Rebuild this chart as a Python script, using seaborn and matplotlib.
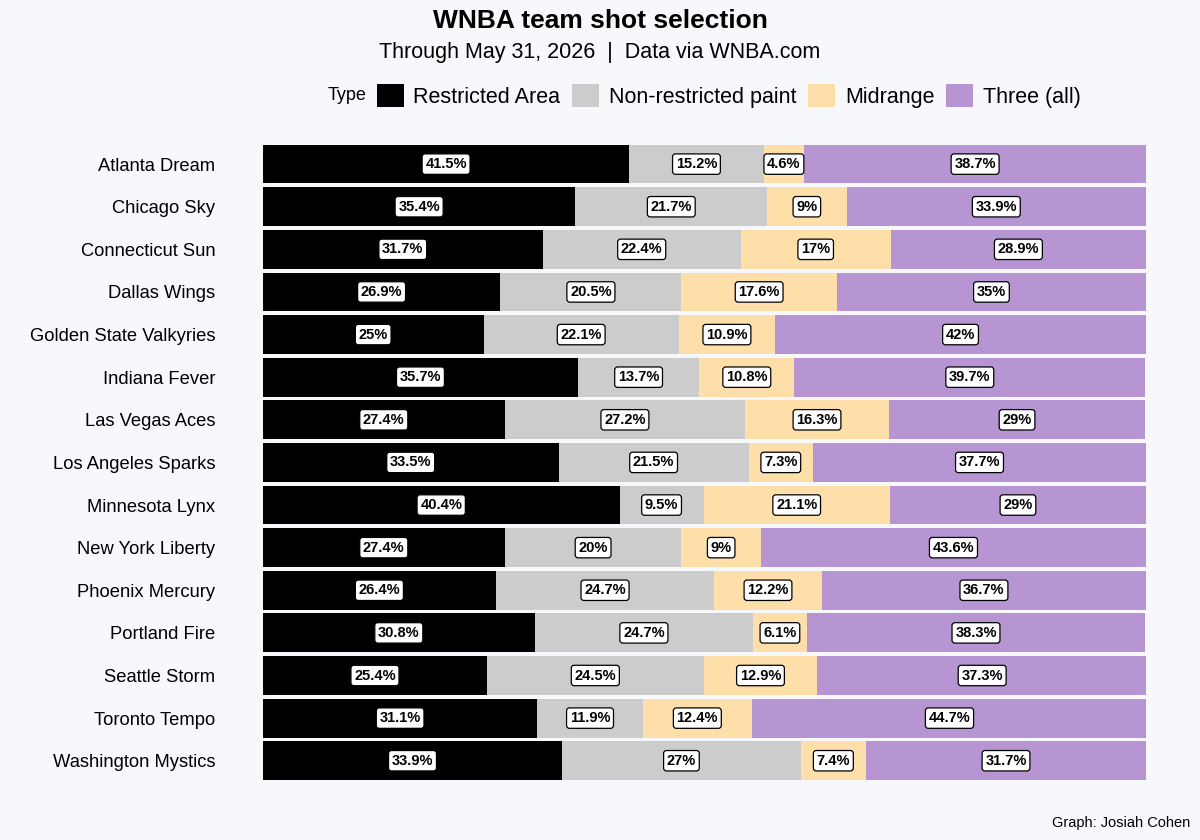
import numpy as np
import pandas as pd
import seaborn as sns
import matplotlib.pyplot as plt
from matplotlib.patches import Patch

# data
teams = ["Atlanta Dream", "Chicago Sky", "Connecticut Sun", "Dallas Wings",
         "Golden State Valkyries", "Indiana Fever", "Las Vegas Aces",
         "Los Angeles Sparks", "Minnesota Lynx", "New York Liberty",
         "Phoenix Mercury", "Portland Fire", "Seattle Storm", "Toronto Tempo",
         "Washington Mystics"]
restricted = [41.5, 35.4, 31.7, 26.9, 25.0, 35.7, 27.4, 33.5, 40.4, 27.4, 26.4, 30.8, 25.4, 31.1, 33.9]
paint = [15.2, 21.7, 22.4, 20.5, 22.1, 13.7, 27.2, 21.5, 9.5, 20.0, 24.7, 24.7, 24.5, 11.9, 27.0]
midrange = [4.6, 9.0, 17.0, 17.6, 10.9, 10.8, 16.3, 7.3, 21.1, 9.0, 12.2, 6.1, 12.9, 12.4, 7.4]
three = [38.7, 33.9, 28.9, 35.0, 42.0, 39.7, 29.0, 37.7, 29.0, 43.6, 36.7, 38.3, 37.3, 44.7, 31.7]

types = ["Restricted Area", "Non-restricted paint", "Midrange", "Three (all)"]
colors = ["#000000", "#CCCCCC", "#FEDFAA", "#B795D3"]
bg = "#F7F8FC"

df = pd.DataFrame({"team": teams, "Restricted Area": restricted,
                   "Non-restricted paint": paint, "Midrange": midrange,
                   "Three (all)": three})
cum = df[types].cumsum(axis=1)
cum["team"] = df["team"]

sns.set_theme(style="white")
plt.rcParams["font.family"] = ["Liberation Sans", "DejaVu Sans"]
plt.rcParams["text.color"] = "black"
plt.rcParams["ytick.color"] = "black"

fig, ax = plt.subplots(figsize=(12, 8.4), dpi=100)
fig.patch.set_facecolor(bg)
ax.set_facecolor(bg)
fig.subplots_adjust(left=0.219, right=0.955, top=0.830, bottom=0.069)

# stacked bars: draw cumulative totals from the back forward
for t, c in reversed(list(zip(types, colors))):
    sns.barplot(data=cum, x=t, y="team", color=c, width=0.91,
                linewidth=0, saturation=1, ax=ax)

# value labels
for i in range(len(teams)):
    left = 0
    for t in types:
        v = df[t][i]
        ax.text(left + v / 2, i, f"{v:g}%", ha="center", va="center",
                fontsize=10.5, fontweight="bold", color="black",
                bbox=dict(boxstyle="round,pad=0.22,rounding_size=0.2",
                          fc="white", ec="black", lw=0.9))
        left += v

ax.set_xlim(0, 100)
ax.set_ylim(len(teams) - 0.5, -0.5)
ax.set_xlabel("")
ax.set_ylabel("")
ax.set_xticks([])
ax.tick_params(axis="y", labelsize=13.2, length=0, pad=34)
for s in ax.spines.values():
    s.set_visible(False)

fig.text(0.5, 0.975, "WNBA team shot selection", ha="center", va="center",
         fontsize=19, fontweight="bold")
fig.text(0.5, 0.938, "Through May 31, 2026  |  Data via WNBA.com", ha="center",
         va="center", fontsize=15.5)

handles = [Patch(facecolor=c, edgecolor="none") for c in colors]
fig.text(0.273, 0.886, "Type", ha="left", va="center", fontsize=13)
fig.legend(handles, types, loc="center left", bbox_to_anchor=(0.314, 0.886),
           ncol=4, frameon=False, fontsize=15.5, handlelength=1.25,
           handleheight=1.25, handletextpad=0.45, columnspacing=0.55,
           borderaxespad=0, borderpad=0)

fig.text(0.992, 0.02, "Graph: Josiah Cohen", ha="right", va="center",
         fontsize=10.5)

plt.savefig("out.png", dpi=100, facecolor=bg)
